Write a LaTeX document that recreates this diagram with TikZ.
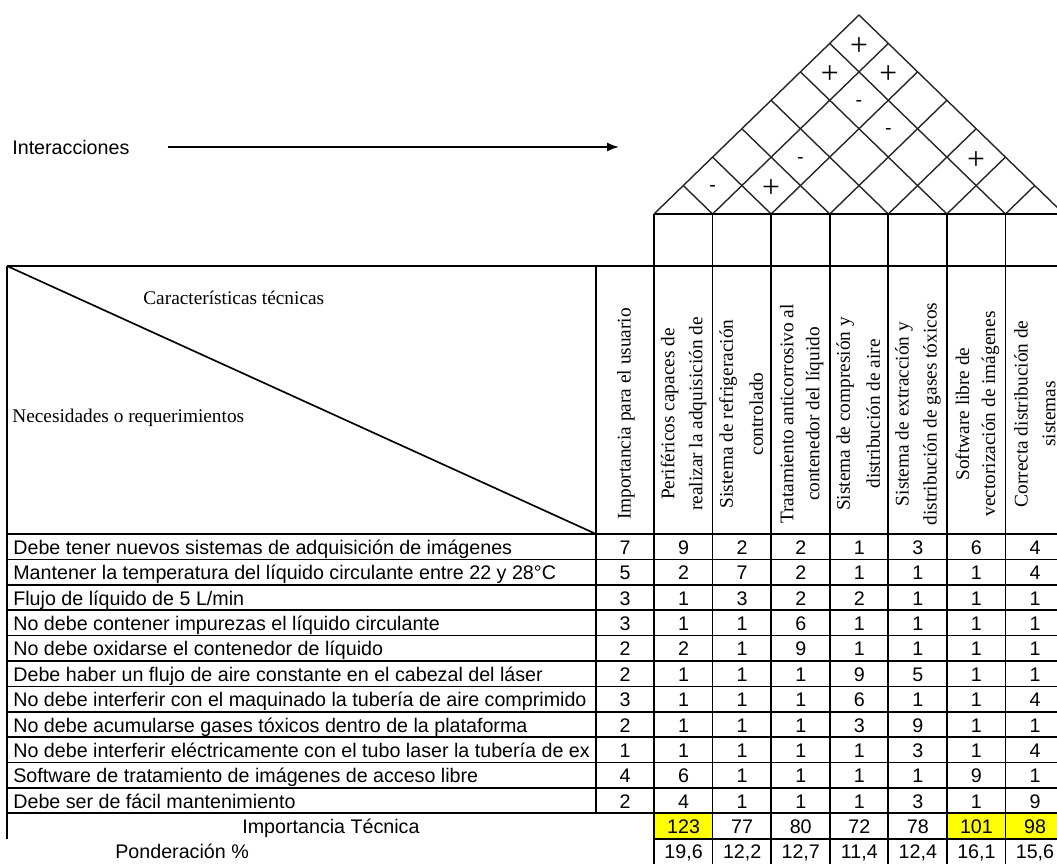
\documentclass[tikz,border=0pt]{standalone}
\usepackage{fontspec}
\setmainfont{Liberation Serif}
\newfontfamily\sansf{Liberation Sans}
\usetikzlibrary{arrows.meta}
\begin{document}
\begin{tikzpicture}[x=0.02cm,y=-0.02cm,
  tline/.style={line width=0.95pt, black},
  rline/.style={line width=0.8pt, black!85},
  hl/.style={fill={rgb,255:red,255;green,255;blue,0}},
  rowtxt/.style={font=\sansf\fontsize{11.2pt}{13pt}\selectfont, inner sep=0pt, anchor=base west},
  num/.style={font=\sansf\fontsize{11.2pt}{13pt}\selectfont, inner sep=0pt, anchor=base},
  hdr/.style={font=\fontsize{11pt}{13pt}\selectfont, inner sep=0pt},
  vtxt/.style={hdr, rotate=90, anchor=center},
  plus/.style={font=\fontsize{18pt}{20pt}\selectfont, inner sep=0pt, anchor=center},
  minus/.style={font=\sansf\fontsize{11.2pt}{13pt}\selectfont, inner sep=0pt, anchor=center},
  arr/.style={line width=0.9pt, -{Latex[length=2.4mm,width=1.8mm]}}
]
\useasboundingbox (0,0) rectangle (1057,864);
\def\W{29.286}
\def\H{28.43}
% yellow highlights
\fill[hl] (654,813.3) rectangle (712.6,838.7);
\fill[hl] (946.9,813.3) rectangle (1005.4,838.7);
\fill[hl] (1005.4,813.3) rectangle (1064,838.7);
% roof
\foreach \k in {0,...,7} {
  \draw[rline] ({654+2*\W*\k},214) -- ({654+(7+\k)*\W},{214-(7-\k)*\H});
  \draw[rline] ({654+2*\W*\k},214) -- ({654+\k*\W},{214-\k*\H});
}
\foreach \i/\j in {1/7,1/6,2/7,5/7,2/3}
  \node[plus] (p\i\j) at ({654+\W*(\i+\j-1)},{214-(\j-\i)*\H+3}) {+};
\foreach \i/\j in {2/6,3/6,2/4,1/2}
  \node[minus] (m\i\j) at ({654+\W*(\i+\j-1)},{214-(\j-\i)*\H+3}) {-};
% horizontal lines
\draw[tline] (654,214) -- (1064,214);
\draw[tline] (7,266) -- (1064,266);
\foreach \r in {0,...,11} \draw[tline] (7,{534+25.39*\r}) -- (1064,{534+25.39*\r});
\draw[tline] (654,838.7) -- (1064,838.7);
% vertical lines
\draw[tline] (7,266) -- (7,839);
\draw[tline] (596,266) -- (596,813.3);
\foreach \k in {0,...,7} \draw[tline] ({654+58.57*\k},214) -- ({654+58.57*\k},864);
% diagonal
\draw[tline] (7,266) -- (596,534);
% interacciones
\node[font=\sansf\fontsize{11.2pt}{13pt}\selectfont, inner sep=0pt, anchor=west] (inter) at (12,147) {Interacciones};
\coordinate (aend) at (619,147);
\draw[arr, shorten <=0.76cm] (inter.east) -- (aend);
% header texts
\node[hdr, anchor=base west] (ct) at (143,305) {Características técnicas};
\node[hdr, anchor=base west] (nr) at (12,422) {Necesidades o requerimientos};
\node[vtxt] (h0) at (626,414) {Importancia para el usuario};
\node[vtxt] (h1a) at (669.6,414) {Periféricos capaces de};
\node[vtxt] (h1b) at (697.6,414) {realizar la adquisición de};
\node[vtxt] (h2a) at (728.2,414) {Sistema de refrigeración};
\node[vtxt] (h2b) at (756.2,414) {controlado};
\node[vtxt] (h3a) at (786.8,414) {Tratamiento anticorrosivo al};
\node[vtxt] (h3b) at (814.8,414) {contenedor del líquido};
\node[vtxt] (h4a) at (845.3,414) {Sistema de compresión y};
\node[vtxt] (h4b) at (873.3,414) {distribución de aire};
\node[vtxt] (h5a) at (903.9,414) {Sistema de extracción y};
\node[vtxt] (h5b) at (931.9,414) {distribución de gases tóxicos};
\node[vtxt] (h6a) at (962.5,414) {Software libre de};
\node[vtxt] (h6b) at (990.5,414) {vectorización de imágenes};
\node[vtxt] (h7a) at (1021.1,414) {Correcta distribución de};
\node[vtxt] (h7b) at (1049.1,414) {sistemas};
% row texts
\node[rowtxt] (r1) at (13,{534+25.39*1-5}) {Debe tener nuevos sistemas de adquisición de imágenes};
\node[rowtxt] (r2) at (13,{534+25.39*2-5}) {Mantener la temperatura del líquido circulante entre 22 y 28°C};
\node[rowtxt] (r3) at (13,{534+25.39*3-5}) {Flujo de líquido de 5 L/min};
\node[rowtxt] (r4) at (13,{534+25.39*4-5}) {No debe contener impurezas el líquido circulante};
\node[rowtxt] (r5) at (13,{534+25.39*5-5}) {No debe oxidarse el contenedor de líquido};
\node[rowtxt] (r6) at (13,{534+25.39*6-5}) {Debe haber un flujo de aire constante en el cabezal del láser};
\node[rowtxt] (r7) at (13,{534+25.39*7-5}) {No debe interferir con el maquinado la tubería de aire comprimido};
\node[rowtxt] (r8) at (13,{534+25.39*8-5}) {No debe acumularse gases tóxicos dentro de la plataforma};
\begin{scope}
\clip (8,{534+25.39*8}) rectangle (595,{534+25.39*9});
\node[rowtxt] (r9) at (13,{534+25.39*9-5}) {No debe interferir eléctricamente con el tubo laser la tubería de ex};
\end{scope}
\node[rowtxt] (r10) at (13,{534+25.39*10-5}) {Software de tratamiento de imágenes de acceso libre};
\node[rowtxt] (r11) at (13,{534+25.39*11-5}) {Debe ser de fácil mantenimiento};
% numbers
\foreach [count=\r] \vals in {{7,9,2,2,1,3,6,4},{5,2,7,2,1,1,1,4},{3,1,3,2,2,1,1,1},{3,1,1,6,1,1,1,1},{2,2,1,9,1,1,1,1},{2,1,1,1,9,5,1,1},{3,1,1,1,6,1,1,4},{2,1,1,1,3,9,1,1},{1,1,1,1,1,3,1,4},{4,6,1,1,1,1,9,1},{2,4,1,1,1,3,1,9}} {
  \foreach [count=\k from 0] \v in \vals {
    \node[num] (n\r-\k) at ({625+58.57*\k},{534+25.39*\r-5}) {\v};
  }
}
\node[rowtxt] (it) at (242,833.7) {Importancia Técnica};
\node[rowtxt] (pd) at (115,858.6) {Ponderación \%};
\foreach [count=\k] \v in {123,77,80,72,78,101,98}
  \node[num] (t\k) at ({625+58.57*\k},833.7) {\v};
\foreach [count=\k] \v/\w in {19/6,12/2,12/7,11/4,12/4,16/1,15/6}
  \node[num] (q\k) at ({625+58.57*\k},858.6) {\v,\w};
\end{tikzpicture}
\end{document}
